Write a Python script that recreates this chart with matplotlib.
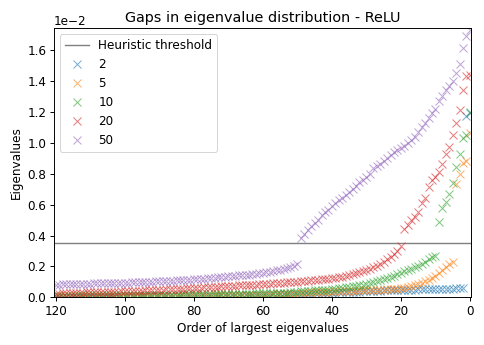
#!/usr/bin/env python3
"""Gaps in eigenvalue distribution (ReLU): sorted largest eigenvalues per width."""

import matplotlib
matplotlib.use('Agg')
import matplotlib.pyplot as plt
import numpy as np

# eigenvalues in units of 1e-2, index = order of largest eigenvalue (0 = largest)
ORDER = list(range(121))

EIG_2 = [
    1.19, 1.17, 0.060, 0.059, 0.058, 0.057, 0.056, 0.056, 0.055, 0.055,
    0.054, 0.054, 0.053, 0.053, 0.052, 0.052, 0.051, 0.051, 0.050, 0.050,
    0.049, 0.049, 0.048, 0.047, 0.046, 0.045, 0.044, 0.043, 0.042, 0.041,
    0.040, 0.039, 0.038, 0.037, 0.036, 0.035, 0.034, 0.033, 0.032, 0.031,
    0.030, 0.029, 0.028, 0.028, 0.027, 0.026, 0.025, 0.025, 0.024, 0.023,
    0.022, 0.022, 0.021, 0.021, 0.020, 0.020, 0.019, 0.019, 0.018, 0.018,
    0.017, 0.017, 0.016, 0.016, 0.015, 0.015, 0.015, 0.014, 0.014, 0.014,
    0.013, 0.013, 0.013, 0.012, 0.012, 0.012, 0.011, 0.011, 0.011, 0.010,
    0.010, 0.010, 0.010, 0.009, 0.009, 0.009, 0.009, 0.008, 0.008, 0.008,
    0.008, 0.008, 0.007, 0.007, 0.007, 0.007, 0.007, 0.006, 0.006, 0.006,
    0.006, 0.006, 0.006, 0.005, 0.005, 0.005, 0.005, 0.005, 0.005, 0.005,
    0.005, 0.004, 0.004, 0.004, 0.004, 0.004, 0.004, 0.004, 0.003, 0.003, 0.003,
]

EIG_5 = [
    1.06, 0.88, 0.87, 0.80, 0.73, 0.230, 0.215, 0.195, 0.175, 0.155,
    0.140, 0.127, 0.115, 0.105, 0.095, 0.087, 0.080, 0.074, 0.068, 0.063,
    0.058, 0.056, 0.055, 0.053, 0.052, 0.051, 0.050, 0.049, 0.048, 0.047,
    0.046, 0.045, 0.045, 0.044, 0.043, 0.042, 0.042, 0.041, 0.040, 0.039,
    0.038, 0.037, 0.036, 0.035, 0.034, 0.033, 0.032, 0.031, 0.029, 0.027,
    0.025, 0.024, 0.023, 0.022, 0.021, 0.020, 0.019, 0.019, 0.018, 0.018,
    0.017, 0.017, 0.016, 0.016, 0.016, 0.015, 0.015, 0.015, 0.014, 0.014,
    0.014, 0.013, 0.013, 0.013, 0.013, 0.012, 0.012, 0.012, 0.012, 0.012,
    0.012, 0.011, 0.011, 0.011, 0.011, 0.011, 0.010, 0.010, 0.010, 0.010,
    0.010, 0.010, 0.009, 0.009, 0.009, 0.009, 0.009, 0.009, 0.009, 0.009,
    0.009, 0.008, 0.008, 0.008, 0.008, 0.008, 0.008, 0.007, 0.007, 0.007,
    0.007, 0.007, 0.007, 0.007, 0.006, 0.006, 0.006, 0.006, 0.006, 0.006, 0.006,
]

EIG_10 = [
    1.20, 1.05, 1.03, 0.93, 0.84, 0.74, 0.67, 0.62, 0.58, 0.485,
    0.270, 0.260, 0.245, 0.230, 0.218, 0.205, 0.195, 0.186, 0.177, 0.168,
    0.158, 0.150, 0.141, 0.133, 0.125, 0.118, 0.112, 0.106, 0.100, 0.094,
    0.088, 0.083, 0.079, 0.075, 0.071, 0.068, 0.064, 0.060, 0.058, 0.055,
    0.053, 0.051, 0.050, 0.048, 0.047, 0.045, 0.044, 0.043, 0.041, 0.039,
    0.037, 0.035, 0.033, 0.031, 0.030, 0.029, 0.028, 0.028, 0.027, 0.027,
    0.027, 0.026, 0.026, 0.025, 0.025, 0.024, 0.024, 0.023, 0.023, 0.022,
    0.022, 0.022, 0.021, 0.021, 0.021, 0.020, 0.020, 0.020, 0.020, 0.020,
    0.020, 0.019, 0.019, 0.019, 0.018, 0.018, 0.018, 0.018, 0.017, 0.017,
    0.017, 0.017, 0.016, 0.016, 0.016, 0.016, 0.016, 0.015, 0.015, 0.015,
    0.015, 0.015, 0.015, 0.014, 0.014, 0.014, 0.014, 0.014, 0.013, 0.013,
    0.013, 0.013, 0.013, 0.013, 0.012, 0.012, 0.012, 0.012, 0.012, 0.012, 0.012,
]

EIG_20 = [
    1.44, 1.43, 1.34, 1.21, 1.13, 1.05, 0.97, 0.93, 0.86, 0.81,
    0.78, 0.76, 0.715, 0.64, 0.61, 0.555, 0.52, 0.50, 0.47, 0.445,
    0.330, 0.300, 0.280, 0.260, 0.245, 0.230, 0.215, 0.205, 0.195, 0.185,
    0.175, 0.168, 0.161, 0.155, 0.149, 0.144, 0.139, 0.135, 0.131, 0.128,
    0.125, 0.122, 0.119, 0.117, 0.115, 0.113, 0.110, 0.108, 0.106, 0.104,
    0.102, 0.101, 0.100, 0.098, 0.096, 0.094, 0.093, 0.091, 0.089, 0.087,
    0.085, 0.084, 0.083, 0.081, 0.080, 0.079, 0.078, 0.077, 0.075, 0.074,
    0.073, 0.072, 0.071, 0.070, 0.069, 0.068, 0.066, 0.065, 0.063, 0.062,
    0.060, 0.059, 0.058, 0.057, 0.056, 0.055, 0.054, 0.053, 0.052, 0.050,
    0.049, 0.048, 0.047, 0.046, 0.045, 0.044, 0.043, 0.042, 0.041, 0.041,
    0.040, 0.039, 0.038, 0.038, 0.037, 0.036, 0.035, 0.035, 0.034, 0.033,
    0.032, 0.032, 0.031, 0.030, 0.030, 0.029, 0.028, 0.027, 0.026, 0.025, 0.025,
]

EIG_50 = [
    1.73, 1.69, 1.61, 1.51, 1.45, 1.40, 1.37, 1.34, 1.30, 1.27,
    1.22, 1.19, 1.16, 1.13, 1.10, 1.07, 1.04, 1.02, 1.00, 0.98,
    0.965, 0.955, 0.94, 0.92, 0.90, 0.88, 0.865, 0.85, 0.835, 0.80,
    0.78, 0.76, 0.745, 0.72, 0.70, 0.68, 0.665, 0.645, 0.63, 0.61,
    0.59, 0.565, 0.55, 0.53, 0.50, 0.48, 0.46, 0.435, 0.41, 0.385,
    0.215, 0.205, 0.198, 0.190, 0.184, 0.179, 0.174, 0.170, 0.166, 0.163,
    0.160, 0.157, 0.154, 0.151, 0.148, 0.146, 0.144, 0.142, 0.140, 0.138,
    0.136, 0.134, 0.132, 0.130, 0.128, 0.126, 0.124, 0.122, 0.120, 0.118,
    0.116, 0.114, 0.113, 0.112, 0.111, 0.110, 0.109, 0.108, 0.106, 0.105,
    0.104, 0.103, 0.102, 0.101, 0.100, 0.099, 0.098, 0.098, 0.097, 0.096,
    0.096, 0.095, 0.094, 0.094, 0.093, 0.092, 0.092, 0.091, 0.090, 0.090,
    0.089, 0.088, 0.088, 0.087, 0.087, 0.086, 0.085, 0.085, 0.084, 0.083, 0.083,
]

WIDTHS = ["2", "5", "10", "20", "50"]
SERIES = [EIG_2, EIG_5, EIG_10, EIG_20, EIG_50]
THRESHOLD = 0.35  # 1e-2 units
UNIT = 1e-2

# the reference looks like a default figure scaled up ~1.2x
plt.rcParams.update({
    'font.size': 12,
    'axes.titlesize': 14.4,
    'axes.linewidth': 0.96,
    'xtick.major.size': 4.2,
    'ytick.major.size': 4.2,
    'xtick.major.width': 0.96,
    'ytick.major.width': 0.96,
})


def main():
    fig = plt.figure(figsize=(484 / 72, 345 / 72), dpi=72)
    ax = fig.add_axes([0.1116, 0.138, 0.8615, 0.780])

    ax.axhline(THRESHOLD * UNIT, color='gray', linewidth=1.4, label="Heuristic threshold")
    for name, vals in zip(WIDTHS, SERIES):
        ax.plot(ORDER, np.array(vals) * UNIT, 'x', markersize=7.2, alpha=0.6, label=name)

    ax.set_xlim(120.5, -0.3)
    ax.set_ylim(0, 0.0174)
    ax.ticklabel_format(axis='y', style='sci', scilimits=(0, 0))

    ax.set_title("Gaps in eigenvalue distribution - ReLU")
    ax.set_xlabel("Order of largest eigenvalues")
    ax.set_ylabel("Eigenvalues")
    ax.legend(loc='upper left')

    fig.savefig("out.png", dpi=72)
    plt.close(fig)


if __name__ == "__main__":
    main()
